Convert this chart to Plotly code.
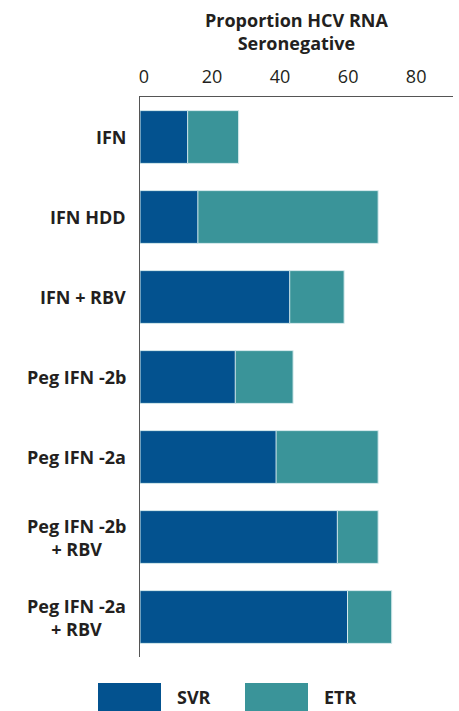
import plotly.graph_objects as go

# data (percent)
treatments = ['IFN', 'IFN HDD', 'IFN + RBV', 'Peg IFN -2b', 'Peg IFN -2a',
              'Peg IFN -2b<br>+ RBV', 'Peg IFN -2a<br>+ RBV']
svr = [14, 17, 44, 28, 40, 58, 61]
etr = [29, 70, 60, 45, 70, 70, 74]
tick_vals = [0, 20, 40, 60, 80]

SVR_COLOR = '#03528f'
ETR_COLOR = '#3a9499'
FONT = 'Open Sans'

fig = go.Figure()
# ETR is the full bar, SVR is drawn over it from zero
fig.add_trace(go.Bar(y=treatments, x=etr, orientation='h', name='ETR',
                     marker=dict(color=ETR_COLOR, line=dict(color='#d9ecee', width=1))))
fig.add_trace(go.Bar(y=treatments, x=svr, orientation='h', name='SVR',
                     marker=dict(color=SVR_COLOR, line=dict(color='#d9ecee', width=1))))

# category labels, lines centred like the original
for t in treatments:
    fig.add_annotation(x=0, xref='paper', y=t, yref='y', text='<b>' + t + '</b>',
                       showarrow=False, xanchor='right', align='center', xshift=-12,
                       font=dict(family=FONT, size=18, color='#231f20'))

# legend drawn as big swatches
W, H = 313, 560  # plot area in px
def px(x):
    return (x - 140) / W
def py(y):
    return (657 - y) / H

for x0, color, label in [(98, SVR_COLOR, 'SVR'), (245, ETR_COLOR, 'ETR')]:
    fig.add_shape(type='rect', xref='paper', yref='paper', x0=px(x0), x1=px(x0 + 63),
                  y0=py(683), y1=py(711), fillcolor=color, line_width=0)
    fig.add_annotation(x=px(x0 + 77), y=py(697), xref='paper', yref='paper',
                       text='<b>' + label + '</b>', showarrow=False, xanchor='left',
                       yanchor='middle', font=dict(family=FONT, size=18, color='#231f20'))

# two-line axis title above the tick labels
fig.add_annotation(x=0.5, y=py(6), xref='paper', yref='paper', yanchor='top',
                   text='<b>Proportion HCV RNA<br>Seronegative</b>', showarrow=False,
                   font=dict(family=FONT, size=18, color='#231f20'))

fig.update_layout(
    width=459, height=711,
    margin=dict(l=140, r=6, t=97, b=54),
    plot_bgcolor='white', paper_bgcolor='white',
    barmode='overlay', bargap=0.34,
    showlegend=False,
    font=dict(family=FONT, size=18, color='#231f20'),
    xaxis=dict(side='top', range=[0, 92], tickvals=tick_vals, showgrid=False,
               zeroline=False, showline=True, linecolor='#555', linewidth=1.2,
               ticks='', ticklabelstandoff=6, ticklabelshift=4, automargin=False,
               tickfont=dict(family=FONT, size=18, color='#231f20')),
    yaxis=dict(autorange='reversed', showticklabels=False, showgrid=False,
               automargin=False, zeroline=False, showline=True, linecolor='#555',
               linewidth=1.2, ticks=''),
)

# drop the browser's default page margin so the figure sits at the corner
fig.write_html('out.html', config={'displayModeBar': False},
               post_script="document.body.style.margin='0';")
